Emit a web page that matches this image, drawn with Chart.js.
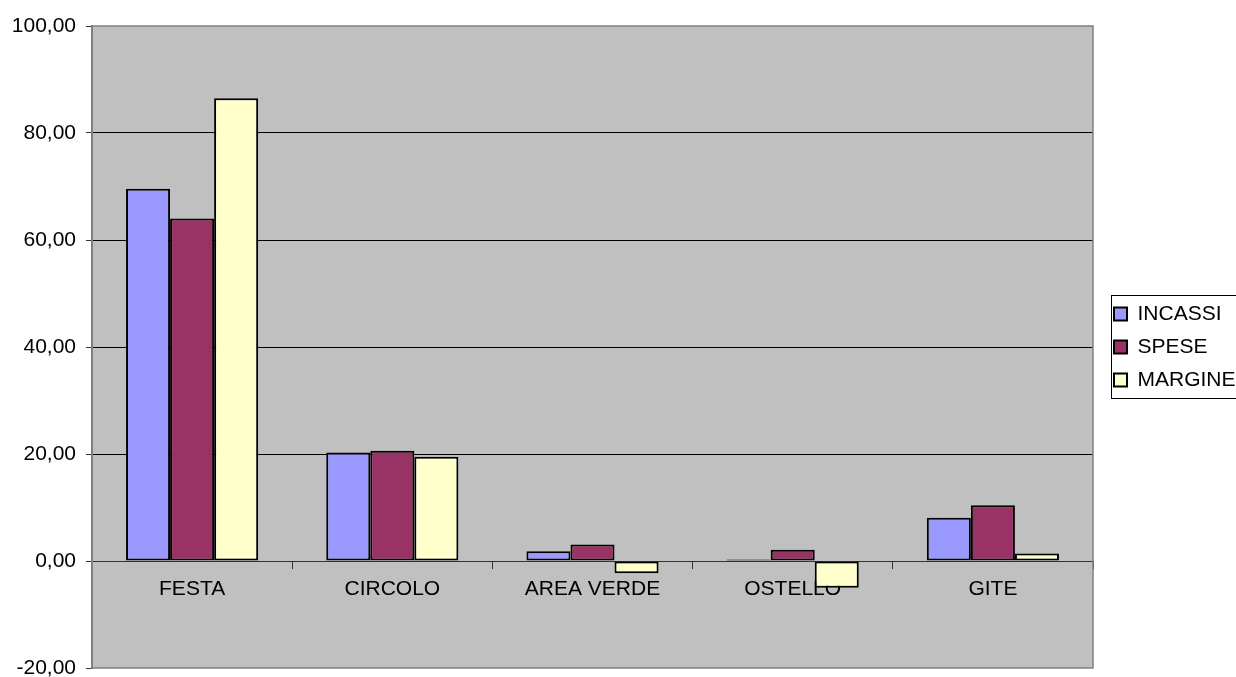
<!DOCTYPE html>
<html>
<head>
<meta charset="utf-8">
<script src="https://cdn.jsdelivr.net/npm/chart.js@4/dist/chart.umd.min.js"></script>
<style>
  html, body { margin: 0; padding: 0; background: #fff; }
  #wrap { width: 1236px; height: 677px; }
</style>
</head>
<body>
<div id="wrap"><canvas id="chart"></canvas></div>
<script>
const categories = ['FESTA', 'CIRCOLO', 'AREA VERDE', 'OSTELLO', 'GITE'];
const incassi = [69.6, 20.3, 1.8, 0.3, 8.1];
const spese = [64.0, 20.6, 3.1, 2.1, 10.4];
const margine = [86.5, 19.5, -2.3, -5.0, 1.4];
const yMin = -20, yMax = 100, yStep = 20;

const fontFamily = '"Liberation Sans", Arial, sans-serif';

// grey plot background + thin border, like the spreadsheet chart
const plotFrame = {
    id: 'plotFrame',
    beforeDraw(chart) {
        const { ctx, chartArea: a } = chart;
        ctx.save();
        ctx.fillStyle = '#C0C0C0';
        ctx.fillRect(a.left, a.top, a.right - a.left, a.bottom - a.top);
        ctx.restore();
    },
    afterDraw(chart) {
        const { ctx, chartArea: a, legend } = chart;
        ctx.save();
        ctx.strokeStyle = '#808080';
        ctx.lineWidth = 1.5;
        ctx.strokeRect(a.left, a.top, a.right - a.left, a.bottom - a.top);

        // box around the legend
        const boxes = legend.legendHitBoxes;
        if (boxes && boxes.length) {
            const first = boxes[0], last = boxes[boxes.length - 1];
            const top = first.top + first.height / 2 - 19;
            const bottom = last.top + last.height / 2 + 18;
            ctx.strokeStyle = '#000';
            ctx.lineWidth = 1;
            ctx.strokeRect(legend.left + 9.5, Math.round(top) + 0.5, chart.width + 10, Math.round(bottom - top));
        }
        ctx.restore();
    }
};

new Chart(document.getElementById('chart'), {
    type: 'bar',
    data: {
        labels: categories,
        datasets: [
            { label: 'INCASSI', data: incassi, backgroundColor: '#9999FF' },
            { label: 'SPESE', data: spese, backgroundColor: '#993366' },
            { label: 'MARGINE', data: margine, backgroundColor: '#FFFFCC' }
        ].map(d => Object.assign(d, {
            borderColor: '#000',
            borderWidth: 2,
            borderSkipped: false,
            categoryPercentage: 0.66,
            barPercentage: 1
        }))
    },
    options: {
        responsive: true,
        maintainAspectRatio: false,
        animation: false,
        layout: { padding: { top: 26, bottom: 9, left: 0, right: 0 } },
        plugins: {
            tooltip: { enabled: false },
            legend: {
                position: 'right',
                maxWidth: 134,
                labels: {
                    color: '#000',
                    font: { family: fontFamily, size: 21 },
                    boxWidth: 13,
                    boxHeight: 13,
                    padding: 12
                }
            }
        },
        scales: {
            x: {
                position: { y: 0 },
                grid: {
                    offset: true,
                    drawOnChartArea: false,
                    drawTicks: true,
                    tickLength: 7,
                    tickColor: '#333'
                },
                border: { color: '#333', width: 1 },
                ticks: {
                    color: '#000',
                    font: { family: fontFamily, size: 21 },
                    padding: 9,
                    maxRotation: 0
                }
            },
            y: {
                min: yMin,
                max: yMax,
                ticks: {
                    stepSize: yStep,
                    color: '#000',
                    padding: 10,
                    font: { family: fontFamily, size: 21 },
                    callback: v => v.toFixed(2).replace('.', ',')
                },
                grid: {
                    color: c => (c.tick && (c.tick.value === 0 || c.tick.value === yMin || c.tick.value === yMax)) ? 'rgba(0,0,0,0)' : '#000',
                    tickColor: '#333',
                    tickLength: 6,
                    lineWidth: 1
                },
                border: { color: '#808080', width: 2 },
                afterFit: s => {
                    s.width = 92;
                    s.paddingTop = 0;
                    s.paddingBottom = 0;
                }
            },
            spacer: {
                type: 'linear',
                position: 'right',
                display: true,
                ticks: { display: false },
                grid: { display: false },
                border: { display: false },
                afterFit: s => { s.width = 9; }
            }
        }
    },
    plugins: [plotFrame]
});
</script>
</body>
</html>
